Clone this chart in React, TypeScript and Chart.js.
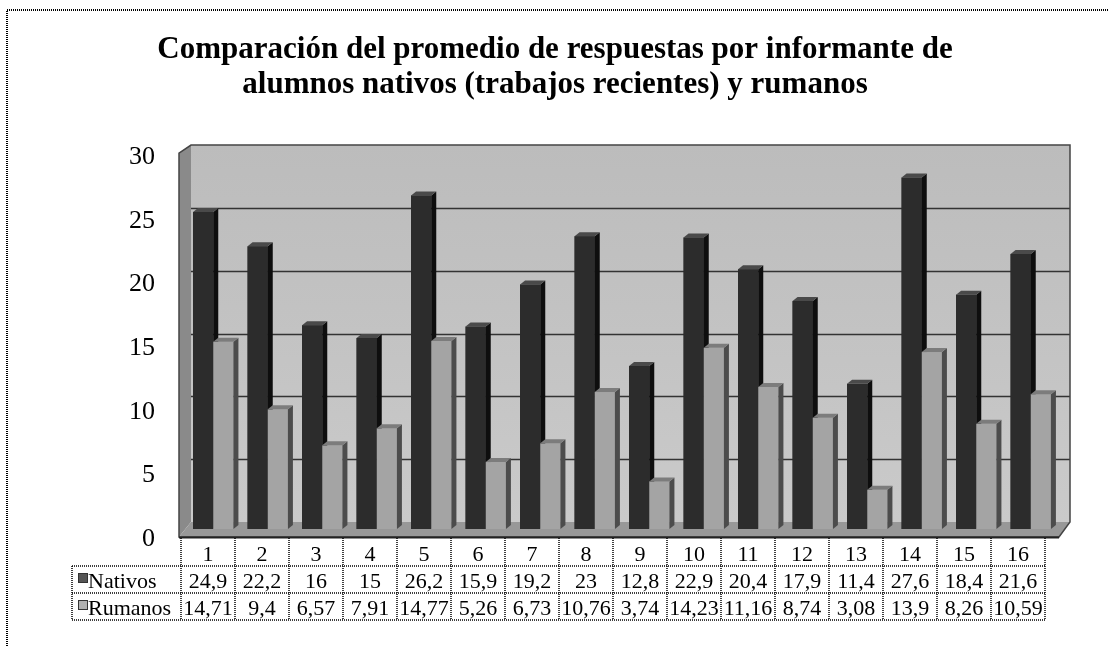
import React, { useEffect, useRef } from "react";
import { Chart, registerables } from "chart.js";

Chart.register(...registerables);

const categories = ["1", "2", "3", "4", "5", "6", "7", "8", "9", "10", "11", "12", "13", "14", "15", "16"];
const seriesNames = ["Nativos", "Rumanos"];
const nativos = [24.9, 22.2, 16, 15, 26.2, 15.9, 19.2, 23, 12.8, 22.9, 20.4, 17.9, 11.4, 27.6, 18.4, 21.6];
const rumanos = [14.71, 9.4, 6.57, 7.91, 14.77, 5.26, 6.73, 10.76, 3.74, 14.23, 11.16, 8.74, 3.08, 13.9, 8.26, 10.59];
const yMin = 0;
const yMax = 30;
const yStep = 5;
const titleLines = [
  "Comparación del promedio de respuestas por informante de",
  "alumnos nativos (trabajos recientes) y rumanos",
];

const SERIF = '"Liberation Serif", "Times New Roman", serif';

const fmt = (v: number) => String(v).replace(".", ",");

const frontColors = ["#2c2c2c", "#a4a4a4"];
const sideColors = ["#0e0e0e", "#4c4c4c"];
const topColors = ["#4a4a4a", "#7c7c7c"];
const keyColors = ["#555555", "#b0b0b0"];

const FRONT_LEFT = 181;
const FRONT_RIGHT = 1045;

const threeD = {
  id: "threeD",
  beforeDraw(chart: any) {
    const ctx = chart.ctx;
    ctx.save();
    ctx.fillStyle = "#ffffff";
    ctx.fillRect(0, 0, chart.width, chart.height);
    ctx.strokeStyle = "#000";
    ctx.lineWidth = 2;
    ctx.setLineDash([1, 1]);
    ctx.beginPath();
    ctx.moveTo(7, chart.height);
    ctx.lineTo(7, 10);
    ctx.lineTo(chart.width, 10);
    ctx.stroke();
    ctx.restore();
  },
  beforeDatasetsDraw(chart: any) {
    const ctx = chart.ctx;
    const ca = chart.chartArea;
    const y = chart.scales.y;
    const midTop = y.getPixelForValue(yMax);
    const midBot = y.getPixelForValue(yMin);
    const bx0 = ca.left + 5, bx1 = ca.right + 12, byTop = midTop - 2, byBot = midBot - 7;
    const fx0 = FRONT_LEFT - 2, fx1 = FRONT_RIGHT + 14, fyTop = midTop + 6, fyBot = midBot + 8;
    const backY = (v: number) => byTop + (y.getPixelForValue(v) - midTop) * (byBot - byTop) / (midBot - midTop);
    ctx.save();
    const g = ctx.createLinearGradient(0, byTop, 0, byBot);
    g.addColorStop(0, "#bcbcbc");
    g.addColorStop(1, "#cacaca");
    ctx.fillStyle = g;
    ctx.fillRect(bx0, byTop, bx1 - bx0, byBot - byTop);
    ctx.beginPath();
    ctx.moveTo(fx0, fyTop);
    ctx.lineTo(bx0, byTop);
    ctx.lineTo(bx0, byBot);
    ctx.lineTo(fx0, fyBot);
    ctx.closePath();
    ctx.fillStyle = "#8a8a8a";
    ctx.fill();
    ctx.beginPath();
    ctx.moveTo(fx0, fyBot);
    ctx.lineTo(bx0, byBot);
    ctx.lineTo(bx1, byBot);
    ctx.lineTo(fx1, fyBot);
    ctx.closePath();
    ctx.fillStyle = "#989898";
    ctx.fill();
    ctx.strokeStyle = "#333";
    ctx.lineWidth = 1.5;
    for (let v = yMin + yStep; v < yMax; v += yStep) {
      const py = Math.round(backY(v)) + 0.5;
      ctx.beginPath();
      ctx.moveTo(bx0, py);
      ctx.lineTo(bx1, py);
      ctx.stroke();
    }
    ctx.strokeStyle = "#444";
    ctx.lineWidth = 1.5;
    ctx.beginPath();
    ctx.moveTo(fx0, fyBot);
    ctx.lineTo(fx0, fyTop);
    ctx.lineTo(bx0, byTop);
    ctx.lineTo(bx1, byTop);
    ctx.lineTo(bx1, byBot);
    ctx.lineTo(fx1, fyBot);
    ctx.closePath();
    ctx.stroke();
    ctx.beginPath();
    ctx.moveTo(fx0, fyBot + 0.5);
    ctx.lineTo(fx1, fyBot + 0.5);
    ctx.strokeStyle = "#222";
    ctx.lineWidth = 2;
    ctx.stroke();
    ctx.restore();
  },
  afterDatasetsDraw(chart: any) {
    const ctx = chart.ctx;
    const dx = 5, dy = -4;
    const metas = [chart.getDatasetMeta(0), chart.getDatasetMeta(1)];
    ctx.save();
    for (let i = 0; i < categories.length; i++) {
      for (let s = 0; s < 2; s++) {
        const el: any = metas[s].data[i];
        const l = el.x - el.width / 2;
        const r = el.x + el.width / 2;
        const top = el.y;
        const bottom = el.base;
        ctx.fillStyle = frontColors[s];
        ctx.fillRect(l, top, r - l, bottom - top);
        ctx.beginPath();
        ctx.moveTo(r, top);
        ctx.lineTo(r + dx, top + dy);
        ctx.lineTo(r + dx, bottom + dy);
        ctx.lineTo(r, bottom);
        ctx.closePath();
        ctx.fillStyle = sideColors[s];
        ctx.fill();
        ctx.beginPath();
        ctx.moveTo(l, top);
        ctx.lineTo(l + dx, top + dy);
        ctx.lineTo(r + dx, top + dy);
        ctx.lineTo(r, top);
        ctx.closePath();
        ctx.fillStyle = topColors[s];
        ctx.fill();
      }
    }
    ctx.restore();
  },
  afterDraw(chart: any) {
    const ctx = chart.ctx;
    const ca = chart.chartArea;
    const x = chart.scales.x;
    const y = chart.scales.y;
    const k = (FRONT_RIGHT - FRONT_LEFT) / (ca.right - ca.left);
    const toFront = (px: number) => FRONT_LEFT + (px - ca.left) * k;
    const colW = (ca.right - ca.left) / categories.length * k;
    const colCenter = (i: number) => toFront(x.getPixelForValue(i));
    const colLeft = (i: number) => colCenter(i) - colW / 2;
    const headerTop = y.getPixelForValue(yMin) + 9;
    const rowTops = [566, 593];
    const rowH = 27;
    const tableLeft = 72;
    const tableRight = colLeft(categories.length - 1) + colW;
    ctx.save();
    ctx.strokeStyle = "#000";
    ctx.lineWidth = 1.5;
    ctx.setLineDash([1, 1]);
    const hl = (yy: number, x0: number, x1: number) => {
      ctx.beginPath();
      ctx.moveTo(x0, yy);
      ctx.lineTo(x1, yy);
      ctx.stroke();
    };
    const vl = (xx: number, y0: number, y1: number) => {
      ctx.beginPath();
      ctx.moveTo(xx, y0);
      ctx.lineTo(xx, y1);
      ctx.stroke();
    };
    hl(rowTops[0], tableLeft, tableRight);
    hl(rowTops[1], tableLeft, tableRight);
    hl(rowTops[1] + rowH, tableLeft, tableRight);
    vl(tableLeft, rowTops[0], rowTops[1] + rowH);
    for (let i = 0; i <= categories.length; i++) {
      const xx = i < categories.length ? colLeft(i) : tableRight;
      vl(xx, headerTop, rowTops[1] + rowH);
    }
    ctx.setLineDash([]);
    ctx.fillStyle = "#000";
    ctx.font = `22px ${SERIF}`;
    ctx.textBaseline = "alphabetic";
    ctx.textAlign = "center";
    for (let i = 0; i < categories.length; i++) {
      ctx.fillText(categories[i], colCenter(i), rowTops[0] - 5);
    }
    const series = [nativos, rumanos];
    for (let s = 0; s < 2; s++) {
      const base = rowTops[s] + rowH - 5;
      ctx.textAlign = "center";
      ctx.fillStyle = "#000";
      for (let i = 0; i < categories.length; i++) {
        ctx.fillText(fmt(series[s][i]), colCenter(i), base);
      }
      ctx.fillStyle = keyColors[s];
      ctx.fillRect(tableLeft + 6, rowTops[s] + 7, 10, 10);
      ctx.strokeStyle = "#333";
      ctx.lineWidth = 1;
      ctx.strokeRect(tableLeft + 6.5, rowTops[s] + 7.5, 9, 9);
      ctx.fillStyle = "#000";
      ctx.textAlign = "left";
      ctx.fillText(seriesNames[s], tableLeft + 16, base);
    }
    ctx.restore();
  },
};

export default function App() {
  const ref = useRef<HTMLCanvasElement>(null);
  useEffect(() => {
    const chart = new Chart(ref.current as HTMLCanvasElement, {
      type: "bar",
      data: {
        labels: categories,
        datasets: [
          { label: seriesNames[0], data: nativos, backgroundColor: frontColors[0], categoryPercentage: 0.74, barPercentage: 1 },
          { label: seriesNames[1], data: rumanos, backgroundColor: frontColors[1], categoryPercentage: 0.74, barPercentage: 1 },
        ],
      },
      options: {
        responsive: false,
        animation: false,
        devicePixelRatio: 1,
        layout: { padding: { left: 52, right: 50, top: 0, bottom: 77 } },
        plugins: {
          legend: { display: false },
          tooltip: { enabled: false },
          title: {
            display: true,
            text: titleLines,
            color: "#000",
            font: { family: SERIF, size: 31, weight: "bold", lineHeight: 1.13 },
            padding: { top: 32, bottom: 45 },
          },
        },
        scales: {
          x: {
            display: true,
            grid: { display: false, drawTicks: false },
            border: { display: false },
            ticks: { display: false },
            afterFit: (scale: any) => { scale.height = 40; },
          },
          y: {
            min: yMin,
            max: yMax,
            grid: { display: false, drawTicks: false },
            border: { display: false },
            ticks: { stepSize: yStep, color: "#000", font: { family: SERIF, size: 26 }, padding: 31, labelOffset: 10 },
            afterFit: (scale: any) => { scale.width = 134; },
          },
        },
      },
      plugins: [threeD],
    });
    return () => chart.destroy();
  }, []);
  return (
    <div style={{ position: "fixed", left: 0, top: 0, width: 1108, height: 646, background: "#fff" }}>
      <canvas ref={ref} width={1108} height={646} style={{ display: "block" }} />
    </div>
  );
}
